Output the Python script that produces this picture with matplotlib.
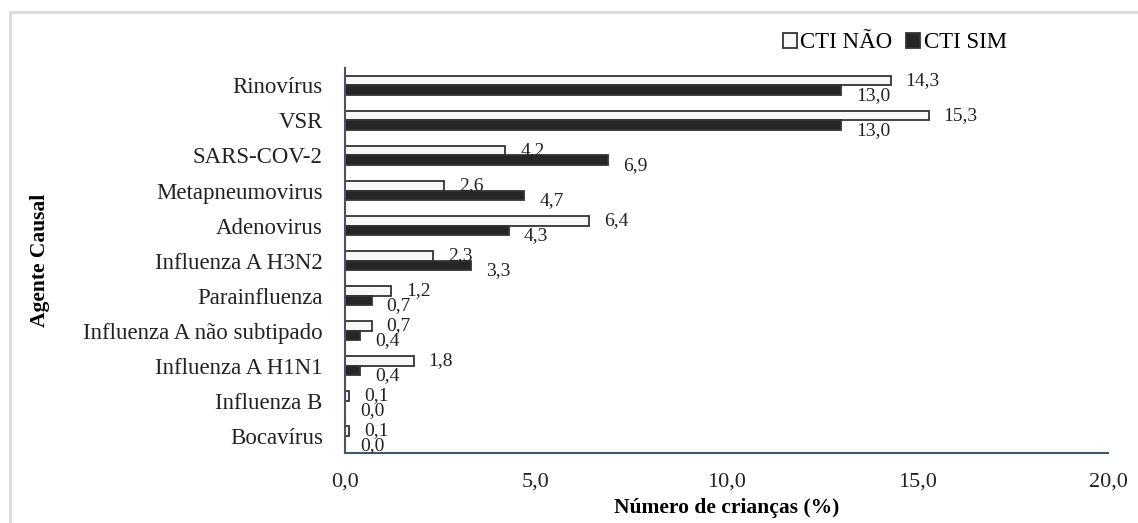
import matplotlib.pyplot as plt
from matplotlib.patches import Rectangle
import numpy as np

agentes = ['Rinovírus', 'VSR', 'SARS-COV-2', 'Metapneumovirus', 'Adenovirus',
           'Influenza A H3N2', 'Parainfluenza', 'Influenza A não subtipado',
           'Influenza A H1N1', 'Influenza B', 'Bocavírus']
cti_nao = [14.3, 15.3, 4.2, 2.6, 6.4, 2.3, 1.2, 0.7, 1.8, 0.1, 0.1]
cti_sim = [13.0, 13.0, 6.9, 4.7, 4.3, 3.3, 0.7, 0.4, 0.4, 0.0, 0.0]
xticks = [0, 5, 10, 15, 20]

plt.rcParams['font.family'] = ['Liberation Serif', 'DejaVu Serif']

fig = plt.figure(figsize=(11.38, 5.23), dpi=100)
ax = fig.add_axes([0.3032, 0.1338, 0.6704, 0.7362])

# light grey frame around the chart area
fig.patches.append(Rectangle((10 / 1138, -0.5), 2.0, 0.5 + 1 - 12 / 523,
                             transform=fig.transFigure, fill=False,
                             edgecolor='#d9d9d9', lw=2))

y = np.arange(len(agentes))
h = 0.26
ax.barh(y - h / 2, cti_nao, height=h, color='#f7f7f7', edgecolor='#333333',
        lw=1.3, label='CTI NÃO')
ax.barh(y + h / 2, cti_sim, height=h, color='#262626', edgecolor='#333333',
        lw=1.3, label='CTI SIM')

fmt = lambda v: f'{v:.1f}'.replace('.', ',')
for i, (a, b) in enumerate(zip(cti_nao, cti_sim)):
    ax.annotate(fmt(a), (a, i - h / 2), xytext=(15, 0), textcoords='offset pixels',
                ha='left', va='center', fontsize=14, color='#222222')
    ax.annotate(fmt(b), (b, i + h / 2), xytext=(15, -6), textcoords='offset pixels',
                ha='left', va='center', fontsize=14, color='#222222')

ax.set_xlim(0, 20)
ax.set_ylim(len(agentes) - 0.5, -0.5)
ax.set_xticks(xticks)
ax.set_xticklabels([fmt(t) for t in xticks], fontsize=16, color='#222222')
ax.set_yticks(y)
ax.set_yticklabels(agentes, fontsize=16.5, color='#222222')
ax.tick_params(axis='x', length=0, pad=14)
ax.tick_params(axis='y', length=0, pad=16)

for s in ['top', 'right']:
    ax.spines[s].set_visible(False)
for s in ['left', 'bottom']:
    ax.spines[s].set_color('#44546a')
    ax.spines[s].set_linewidth(1.5)

ax.set_xlabel('Número de crianças (%)', fontsize=15.5, fontweight='bold')
ax.xaxis.set_label_coords(0.5, (453 - 508) / 385)
ax.xaxis.label.set_va('center')
ax.set_ylabel('Agente Causal', fontsize=15.5, fontweight='bold')
ax.yaxis.set_label_coords((50 - 345) / 763, 0.5)

ax.legend(loc='center', bbox_to_anchor=((895 - 345) / 763, (453 - 43) / 385),
          ncol=2, frameon=False, fontsize=16.5, handlelength=0.6,
          handleheight=0.6, handletextpad=0.15, columnspacing=0.6,
          borderpad=0)

fig.savefig('out.png', dpi=100)
